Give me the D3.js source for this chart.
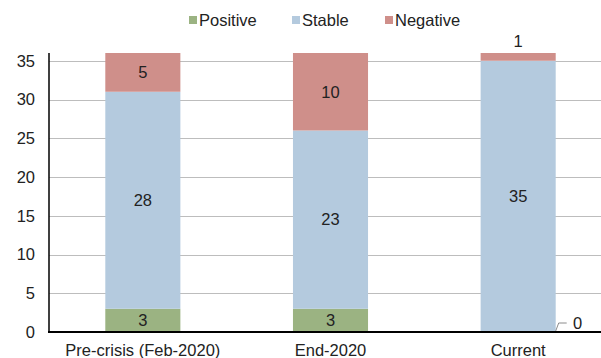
<!DOCTYPE html>
<html>
<head>
<meta charset="utf-8">
<script src="https://cdn.jsdelivr.net/npm/d3@7"></script>
<style>
  html, body { margin: 0; padding: 0; background: #fff; }
  svg { display: block; font-family: "Liberation Sans", Arial, sans-serif; }
</style>
</head>
<body>
<svg id="chart" width="601" height="358"></svg>
<script>
// Rating outlook counts per period
const categories = ["Pre-crisis (Feb-2020)", "End-2020", "Current"];
const seriesNames = ["Positive", "Stable", "Negative"];
const positive = [3, 3, 0];
const stable = [28, 23, 35];
const negative = [5, 10, 1];
const yTicks = [0, 5, 10, 15, 20, 25, 30, 35];

const colors = { Positive: "#9bb382", Stable: "#b4cade", Negative: "#cf8f8a" };
const fontSize = 16.5;
const textColor = "#222";

const svg = d3.select("#chart");
const chartWidth = 601;
const plotLeft = 49, plotTop = 53, plotBottom = 332;

const rows = categories.map((c, i) => ({
  category: c, Positive: positive[i], Stable: stable[i], Negative: negative[i]
}));
const stacked = d3.stack().keys(seriesNames)(rows);

const x = d3.scaleBand().domain(categories).range([plotLeft, 612]).paddingInner(0.6).paddingOuter(0.3);
const y = d3.scaleLinear().domain([0, 36]).range([plotBottom, plotTop]);

// horizontal gridlines
svg.append("g")
  .selectAll("line")
  .data(yTicks.filter(d => d > 0))
  .join("line")
  .attr("x1", plotLeft).attr("x2", chartWidth)
  .attr("y1", d => Math.round(y(d)) + 0.5).attr("y2", d => Math.round(y(d)) + 0.5)
  .attr("stroke", "#bdbdbd").attr("stroke-width", 1);

// stacked bars
svg.append("g").selectAll("g")
  .data(stacked)
  .join("g")
  .attr("fill", d => colors[d.key])
  .selectAll("rect")
  .data(d => d)
  .join("rect")
  .attr("x", d => x(d.data.category))
  .attr("width", x.bandwidth())
  .attr("y", d => y(d[1]))
  .attr("height", d => y(d[0]) - y(d[1]));

// value labels: inside the segment, above it when too thin, with a leader when zero
function label(tx, ty, v) {
  svg.append("text")
    .attr("x", tx).attr("y", ty)
    .attr("dy", "0.35em").attr("text-anchor", "middle")
    .attr("font-size", fontSize).attr("fill", textColor)
    .text(v);
}
stacked.forEach(layer => {
  layer.forEach(d => {
    const v = d[1] - d[0];
    const cx = x(d.data.category) + x.bandwidth() / 2;
    const segH = y(d[0]) - y(d[1]);
    if (v === 0) {
      const x0 = x(d.data.category) + x.bandwidth();
      const y0 = y(0);
      svg.append("path")
        .attr("d", `M${x0},${y0 - 1} L${x0 + 3},${y0 - 9} L${x0 + 11},${y0 - 9}`)
        .attr("fill", "none").attr("stroke", "#8c8c8c").attr("stroke-width", 1);
      label(x0 + 22, y0 - 9, v);
    } else if (segH < 16) {
      label(cx, y(d[1]) - 12, v);
    } else {
      label(cx, (y(d[0]) + y(d[1])) / 2, v);
    }
  });
});

// y axis
const yAxis = svg.append("g")
  .attr("transform", `translate(${plotLeft},0)`)
  .call(d3.axisLeft(y).tickValues(yTicks).tickSize(0).tickPadding(14));
yAxis.select(".domain").attr("stroke", "#000").attr("stroke-width", 1.5)
  .attr("d", `M0,${y(36)}V${plotBottom}`);
yAxis.selectAll("text").attr("font-size", fontSize).attr("fill", textColor)
  .attr("font-family", "Liberation Sans, Arial, sans-serif");

// x axis
const xAxis = svg.append("g")
  .attr("transform", `translate(0,${plotBottom})`)
  .call(d3.axisBottom(x).tickSize(0).tickPadding(12));
xAxis.select(".domain").attr("stroke", "#000").attr("stroke-width", 2)
  .attr("d", `M${plotLeft - 1},0H${chartWidth}`);
xAxis.selectAll("text").attr("font-size", fontSize).attr("fill", textColor)
  .attr("font-family", "Liberation Sans, Arial, sans-serif");

// legend
const legendPos = [189, 292, 385];
const legend = svg.append("g").selectAll("g")
  .data(seriesNames)
  .join("g")
  .attr("transform", (d, i) => `translate(${legendPos[i]},20)`);
legend.append("rect")
  .attr("x", 0).attr("y", -4).attr("width", 8).attr("height", 8)
  .attr("fill", d => colors[d]);
legend.append("text")
  .attr("x", 10).attr("y", 0).attr("dy", "0.35em")
  .attr("font-size", fontSize).attr("fill", textColor)
  .text(d => d);
</script>
</body>
</html>
